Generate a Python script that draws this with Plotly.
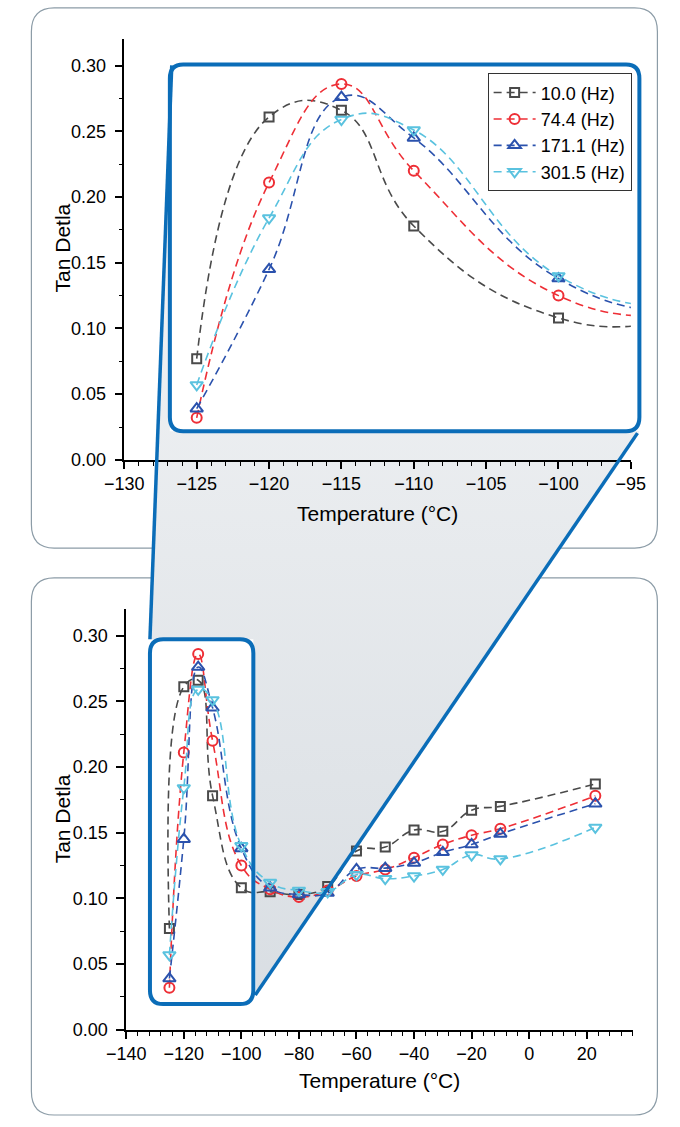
import plotly.graph_objects as go

# ---------------- data ----------------
temps = [-125, -120, -115, -110, -100, -90, -80, -70, -60, -50, -40, -30, -20, -10, 23]
f10 = [0.077, 0.261, 0.266, 0.178, 0.108, 0.105, 0.103, 0.109, 0.136, 0.139, 0.152, 0.151, 0.167, 0.170, 0.187]
f74 = [0.032, 0.211, 0.286, 0.220, 0.125, 0.107, 0.101, 0.106, 0.117, 0.122, 0.131, 0.141, 0.148, 0.153, 0.178]
f171 = [0.039, 0.145, 0.276, 0.245, 0.138, 0.108, 0.103, 0.104, 0.122, 0.123, 0.127, 0.135, 0.141, 0.149, 0.172]
f301 = [0.057, 0.184, 0.259, 0.251, 0.140, 0.112, 0.106, 0.105, 0.118, 0.115, 0.117, 0.122, 0.133, 0.130, 0.154]

series_names = ["10.0 (Hz)", "74.4 (Hz)", "171.1 (Hz)", "301.5 (Hz)"]
series_vals = [f10, f74, f171, f301]
colors = ["#4a4a4a", "#ee2f36", "#2b52ad", "#5ac2df"]
symbols = ["square-open", "circle-open", "triangle-up-open", "triangle-down-open"]
msizes = [9, 10, 11, 11]

x_title = "Temperature (°C)"
y_title = "Tan Detla"

W, H = 680, 1127
FONT = "Liberation Sans, Arial, sans-serif"
BLUE = "#0b6db8"

fig = go.Figure()

# ---------- overlay (pixel) axis: gray zoom cone ----------
poly_x = [160, 158, 653, 249, 246, 137, 160]
poly_y = [65, 435, 435, 1004, 645, 645, 65]
fig.add_trace(go.Scatter(
    x=poly_x, y=poly_y, xaxis="x", yaxis="y", mode="lines",
    line=dict(width=0), fill="toself",
    fillgradient=dict(type="vertical", start=65, stop=1004,
                      colorscale=[[0, "#f6f7f8"], [1, "#d9dee3"]]),
    hoverinfo="skip", showlegend=False))

# ---------- data traces ----------
for i in range(4):
    for (xa, ya, show) in (("x2", "y2", True), ("x3", "y3", False)):
        fig.add_trace(go.Scatter(
            x=temps, y=series_vals[i], xaxis=xa, yaxis=ya,
            mode="lines+markers", name=series_names[i], showlegend=show,
            line=dict(color=colors[i], width=1.6, dash="8px,5px", shape="spline", smoothing=1.3),
            marker=dict(symbol=symbols[i], size=msizes[i], color=colors[i],
                        line=dict(color=colors[i], width=2)),
            cliponaxis=True))


def rrect(x0, y0, x1, y1, r):
    return (f"M {x0+r},{y0} L {x1-r},{y0} Q {x1},{y0} {x1},{y0+r} "
            f"L {x1},{y1-r} Q {x1},{y1} {x1-r},{y1} L {x0+r},{y1} "
            f"Q {x0},{y1} {x0},{y1-r} L {x0},{y0+r} Q {x0},{y0} {x0+r},{y0} Z")


shapes = [
    # panel borders
    dict(type="path", path=rrect(12, 8, 672, 553, 24), xref="x", yref="y",
         line=dict(color="#8c9ca7", width=1.2), layer="below"),
    dict(type="path", path=rrect(12, 583, 672, 1125, 24), xref="x", yref="y",
         line=dict(color="#8c9ca7", width=1.2), layer="below"),
    # blue zoom rects
    dict(type="path", path=rrect(158, 65, 653, 435, 14), xref="x", yref="y",
         line=dict(color=BLUE, width=4), layer="above"),
    dict(type="path", path=rrect(137, 645, 246, 1013, 14), xref="x", yref="y",
         line=dict(color=BLUE, width=4), layer="above"),
    # connecting lines
    dict(type="line", x0=160, y0=66, x1=137, y1=645, xref="x", yref="y",
         line=dict(color=BLUE, width=3.5), layer="above"),
    dict(type="line", x0=651, y0=437, x1=248, y1=1004, xref="x", yref="y",
         line=dict(color=BLUE, width=3.5), layer="above"),
]

common_x = dict(showline=True, linecolor="black", linewidth=1.6, ticks="outside",
                ticklen=7, tickwidth=1.6, tickcolor="black", showgrid=False, zeroline=False,
                tickfont=dict(family=FONT, size=18, color="black"))
common_y = dict(showline=True, linecolor="black", linewidth=1.6, ticks="outside",
                ticklen=8, tickwidth=1.6, tickcolor="black", showgrid=False, zeroline=False,
                tickformat=".2f", dtick=0.05, tick0=0, range=[0, 0.32],
                ticklabelstandoff=5,
                minor=dict(dtick=0.025, ticks="outside", ticklen=4, tickcolor="black", tickwidth=1.4),
                tickfont=dict(family=FONT, size=18, color="black"))

ann_font = dict(family=FONT, size=21, color="black")

fig.update_layout(
    width=W, height=H, margin=dict(l=0, r=0, t=0, b=0),
    paper_bgcolor="white", plot_bgcolor="rgba(0,0,0,0)",
    xaxis=dict(domain=[0, 1], range=[0, W], visible=False, fixedrange=True),
    yaxis=dict(domain=[0, 1], range=[H, 0], visible=False, fixedrange=True),
    xaxis2=dict(domain=[110 / W, 644 / W], anchor="y2", range=[-130, -95], dtick=5, tick0=-130,
                minor=dict(dtick=1, ticks="outside", ticklen=4, tickcolor="black", tickwidth=1.4),
                **common_x),
    yaxis2=dict(domain=[1 - 464 / H, 1 - 39.7 / H], anchor="x2", **common_y),
    xaxis3=dict(domain=[112 / W, 646 / W], anchor="y3", range=[-140, 36], dtick=20, tick0=-140,
                minor=dict(dtick=4, ticks="outside", ticklen=4, tickcolor="black", tickwidth=1.4),
                **common_x),
    yaxis3=dict(domain=[1 - 1039 / H, 1 - 614.7 / H], anchor="x3", **common_y),
    shapes=shapes,
    showlegend=True,
    legend=dict(x=493 / W, y=1 - 74 / H, xanchor="left", yanchor="top",
                bgcolor="white", bordercolor="#333333", borderwidth=1,
                font=dict(family=FONT, size=18, color="black"),
                itemwidth=42, tracegroupgap=0),
    annotations=[
        dict(text=x_title, x=377 / W, y=1 - 518 / H, xref="paper", yref="paper",
             xanchor="center", yanchor="middle", showarrow=False, font=ann_font),
        dict(text=x_title, x=379 / W, y=1 - 1090 / H, xref="paper", yref="paper",
             xanchor="center", yanchor="middle", showarrow=False, font=ann_font),
        dict(text=y_title, x=45 / W, y=1 - 250 / H, xref="paper", yref="paper", textangle=-90,
             xanchor="center", yanchor="middle", showarrow=False, font=ann_font),
        dict(text=y_title, x=45 / W, y=1 - 826 / H, xref="paper", yref="paper", textangle=-90,
             xanchor="center", yanchor="middle", showarrow=False, font=ann_font),
    ],
)

fig.write_html("out.html")
